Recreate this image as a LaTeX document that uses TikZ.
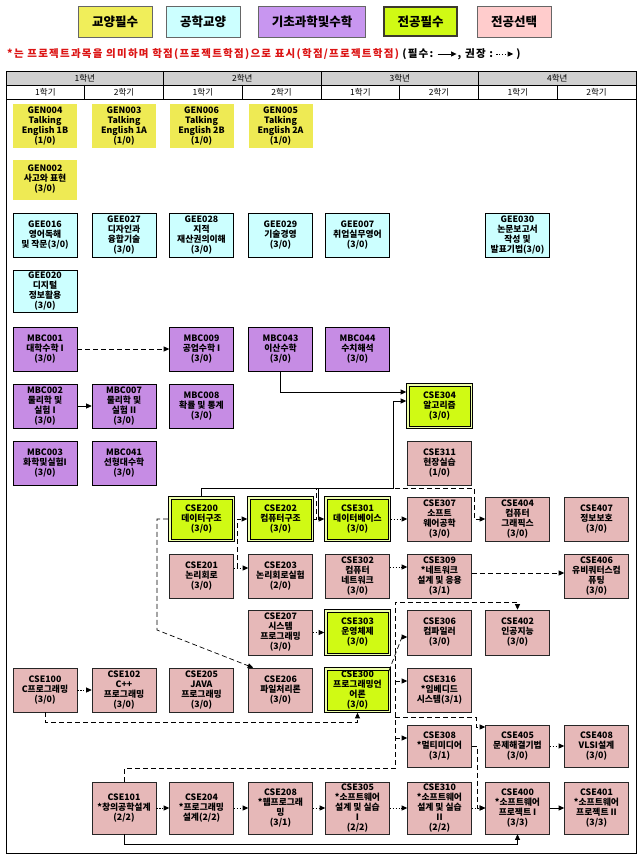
\documentclass[tikz,border=0pt]{standalone}
\usepackage{fontspec}
\setmainfont{Noto Sans CJK KR}
\usetikzlibrary{arrows.meta,calc}
\definecolor{genY}{RGB}{238,234,84}
\definecolor{geeC}{RGB}{204,255,255}
\definecolor{mbcP}{RGB}{198,140,228}
\definecolor{mustG}{RGB}{208,250,20}
\definecolor{mustL}{RGB}{238,255,170}
\definecolor{selP}{RGB}{230,184,184}
\definecolor{legY}{RGB}{240,238,90}
\definecolor{legP}{RGB}{200,150,240}
\definecolor{legS}{RGB}{255,204,204}
\definecolor{hdrG}{RGB}{208,208,208}
\definecolor{noteR}{RGB}{220,20,20}
\newcommand\ndfont{\bfseries\fontsize{8.8}{10}\selectfont}
\newcommand\legfont{\bfseries\fontsize{12.5}{14}\selectfont}
\newcommand\hdfont{\fontsize{8.5}{10}\selectfont}
\newcommand\notefont{\bfseries\fontsize{10.5}{12}\selectfont\addfontfeature{LetterSpace=12}}
\begin{document}
\begin{tikzpicture}[x=1pt,y=-1pt,
  basebox/.style={minimum width=64pt,minimum height=44pt,inner sep=0pt,align=center,font=\ndfont,text=black},
  genbox/.style={basebox,fill=genY},
  geebox/.style={basebox,fill=geeC,draw=black,line width=0.7pt},
  mbcbox/.style={basebox,fill=mbcP,draw=black,line width=0.6pt},
  selbox/.style={basebox,fill=selP,draw=black!85,line width=0.6pt},
  mustbox/.style={basebox,minimum width=66pt,minimum height=45pt,fill=mustL,draw=black,line width=0.6pt,
    path picture={
      \fill[mustG] ($(path picture bounding box.south west)+(2.3,-2.3)$) rectangle ($(path picture bounding box.north east)+(-2.3,2.3)$);
      \draw[black,line width=0.6pt] ($(path picture bounding box.south west)+(2.3,-2.3)$) rectangle ($(path picture bounding box.north east)+(-2.3,2.3)$);
    }},
  legbox/.style={minimum height=31pt,inner sep=0pt,font=\legfont,draw=black!60,line width=0.6pt},
  arMust/.style={-{Triangle[length=5.5pt,width=5pt]},line width=0.7pt,black},
  arDash/.style={-{Triangle[length=5.5pt,width=5pt]},line width=0.7pt,black,dash pattern=on 5pt off 3pt},
  arDot/.style={-{Triangle[length=5.5pt,width=5pt]},line width=0.7pt,black,dash pattern=on 1.3pt off 1.6pt},
  hdr/.style={font=\hdfont,inner sep=0pt}
]
\useasboundingbox (0,0) rectangle (640,856);
\fill[white] (0,0) rectangle (640,856);

% legend
\node[legbox,fill=legY,minimum width=74pt] (L1) at (115,21.5) {교양필수};
\node[legbox,fill=geeC,minimum width=74pt] (L2) at (203,21.5) {공학교양};
\node[legbox,fill=legP,minimum width=107pt] (L3) at (312,21.5) {기초과학및수학};
\node[legbox,fill=mustG,minimum width=73pt,minimum height=29pt,draw=black!75!olive,line width=2.4pt] (L4) at (420.5,21.5) {전공필수};
\node[legbox,fill=legS,minimum width=74pt] (L5) at (514,21.5) {전공선택};

\node[anchor=west,inner sep=0pt,text=noteR,font=\notefont] (note) at (7,54) {*는 프로젝트과목을 의미하며 학점(프로젝트학점)으로 표시(학점/프로젝트학점)};
\node[anchor=west,inner xsep=3pt,inner ysep=0pt,font=\notefont] (n2) at (note.east) {(필수:};
\coordinate (la1) at ($(n2.east)+(1,0)$);
\coordinate (la2) at ($(n2.east)+(20,0)$);
\draw[arMust] (la1) -- (la2);
\node[anchor=west,inner xsep=1pt,inner ysep=0pt,font=\notefont] (n3) at (la2) {, 권장 :};
\coordinate (lb1) at ($(n3.east)+(2,0)$);
\coordinate (lb2) at ($(n3.east)+(19,0)$);
\draw[arDot] (lb1) -- (lb2);
\node[anchor=west,inner xsep=3pt,inner ysep=0pt,font=\notefont] (n4) at (lb2) {)};

% table header
\fill[hdrG] (6,71) rectangle (636,85);
\draw[line width=0.7pt] (6,71) rectangle (636,99);
\draw[line width=0.6pt] (6,85) -- (636,85);
\foreach \x in {163.5,321,478.5} \draw[line width=0.6pt] (\x,71) -- (\x,99);
\foreach \x in {84.75,242.25,399.75,557.25} \draw[line width=0.6pt] (\x,85) -- (\x,99);
\node[hdr] (Y1) at (84.75,78) {1학년};
\node[hdr] (Y2) at (242.25,78) {2학년};
\node[hdr] (Y3) at (399.75,78) {3학년};
\node[hdr] (Y4) at (557.25,78) {4학년};
\foreach \x/\s [count=\i] in {45.4/1,124.1/2,202.9/1,281.6/2,360.4/1,439.1/2,517.9/1,596.6/2}
  \node[hdr] (S\i) at (\x,92) {{\s}학기};
\draw[line width=0.8pt] (6,99) rectangle (636,853);

% GEN
\node[genbox] (GEN004) at (45,126) {GEN004\\Talking\\English 1B\\(1/0)};
\node[genbox] (GEN003) at (124,126) {GEN003\\Talking\\English 1A\\(1/0)};
\node[genbox] (GEN006) at (201.5,126) {GEN006\\Talking\\English 2B\\(1/0)};
\node[genbox] (GEN005) at (280.5,126) {GEN005\\Talking\\English 2A\\(1/0)};
\node[genbox,minimum height=40pt] (GEN002) at (45,179.5) {GEN002\\사고와 표현\\(3/0)};
% GEE
\node[geebox] (GEE016) at (45,235) {GEE016\\영어독해\\및 작문(3/0)};
\node[geebox] (GEE027) at (124,235) {GEE027\\디자인과\\융합기술\\(3/0)};
\node[geebox] (GEE028) at (201.5,235) {GEE028\\지적\\재산권의이해\\(3/0)};
\node[geebox] (GEE029) at (280.5,235) {GEE029\\기술경영\\(3/0)};
\node[geebox] (GEE007) at (357.5,235) {GEE007\\취업실무영어\\(3/0)};
\node[geebox] (GEE030) at (517.5,235) {GEE030\\논문보고서\\작성 및\\발표기법(3/0)};
\node[geebox,minimum height=42pt] (GEE020) at (45,291) {GEE020\\디지털\\정보활용\\(3/0)};
% MBC
\node[mbcbox] (MBC001) at (45,349) {MBC001\\대학수학 I\\(3/0)};
\node[mbcbox] (MBC009) at (201.5,349) {MBC009\\공업수학 I\\(3/0)};
\node[mbcbox] (MBC043) at (280.5,349) {MBC043\\이산수학\\(3/0)};
\node[mbcbox] (MBC044) at (357.5,349) {MBC044\\수치해석\\(3/0)};
\node[mbcbox] (MBC002) at (45,406) {MBC002\\물리학 및\\실험 I\\(3/0)};
\node[mbcbox] (MBC007) at (124,406) {MBC007\\물리학 및\\실험 II\\(3/0)};
\node[mbcbox] (MBC008) at (201.5,406) {MBC008\\확률 및 통계\\(3/0)};
\node[mbcbox] (MBC003) at (45,463) {MBC003\\화학및실험I\\(3/0)};
\node[mbcbox] (MBC041) at (124,463) {MBC041\\선형대수학\\(3/0)};
% CSE
\node[mustbox] (CSE304) at (439.5,406) {CSE304\\알고리즘\\(3/0)};
\node[selbox] (CSE311) at (439.5,463) {CSE311\\현장실습\\(1/0)};

\node[mustbox] (CSE200) at (201.5,519) {CSE200\\데이터구조\\(3/0)};
\node[mustbox] (CSE202) at (280.5,519) {CSE202\\컴퓨터구조\\(3/0)};
\node[mustbox] (CSE301) at (357.5,519) {CSE301\\데이터베이스\\(3/0)};
\node[selbox] (CSE307) at (439.5,519) {CSE307\\소프트\\웨어공학\\(3/0)};
\node[selbox] (CSE404) at (517.5,519) {CSE404\\컴퓨터\\그래픽스\\(3/0)};
\node[selbox] (CSE407) at (596.5,519) {CSE407\\정보보호\\(3/0)};

\node[selbox] (CSE201) at (201.5,576) {CSE201\\논리회로\\(3/0)};
\node[selbox] (CSE203) at (280.5,576) {CSE203\\논리회로실험\\(2/0)};
\node[selbox] (CSE302) at (357.5,576) {CSE302\\컴퓨터\\네트워크\\(3/0)};
\node[selbox] (CSE309) at (439.5,576) {CSE309\\*네트워크\\설계 및 응용\\(3/1)};
\node[selbox] (CSE406) at (596.5,576) {CSE406\\유비쿼터스컴\\퓨팅\\(3/0)};

\node[selbox,minimum height=45pt] (CSE207) at (280.5,632.5) {CSE207\\시스템\\프로그래밍\\(3/0)};
\node[mustbox,minimum height=46pt] (CSE303) at (357.5,632.5) {CSE303\\운영체제\\(3/0)};
\node[selbox,minimum height=45pt] (CSE306) at (439.5,632.5) {CSE306\\컴파일러\\(3/0)};
\node[selbox,minimum height=45pt] (CSE402) at (517.5,632.5) {CSE402\\인공지능\\(3/0)};

\node[selbox] (CSE100) at (45,690) {CSE100\\C프로그래밍\\(3/0)};
\node[selbox] (CSE102) at (124,690) {CSE102\\C++\\프로그래밍\\(3/0)};
\node[selbox] (CSE205) at (201.5,690) {CSE205\\JAVA\\프로그래밍\\(3/0)};
\node[selbox] (CSE206) at (280.5,690) {CSE206\\파일처리론\\(3/0)};
\node[mustbox] (CSE300) at (357.5,690) {CSE300\\프로그래밍언\\어론\\(3/0)};
\node[selbox] (CSE316) at (439.5,690) {CSE316\\*임베디드\\시스템(3/1)};

\node[selbox,minimum height=42pt] (CSE308) at (439.5,746) {CSE308\\*멀티미디어\\(3/1)};
\node[selbox,minimum height=42pt] (CSE405) at (517.5,746) {CSE405\\문제해결기법\\(3/0)};
\node[selbox,minimum height=42pt] (CSE408) at (596.5,746) {CSE408\\VLSI설계\\(3/0)};

\node[selbox,minimum height=52pt] (CSE101) at (124,808) {CSE101\\*창의공학설계\\(2/2)};
\node[selbox,minimum height=52pt] (CSE204) at (201.5,808) {CSE204\\*프로그래밍\\설계(2/2)};
\node[selbox,minimum height=52pt] (CSE208) at (280.5,808) {CSE208\\*웹프로그래\\밍\\(3/1)};
\node[selbox,minimum height=52pt] (CSE305) at (357.5,808) {CSE305\\*소프트웨어\\설계 및 실습\\I\\(2/2)};
\node[selbox,minimum height=52pt] (CSE310) at (439.5,808) {CSE310\\*소프트웨어\\설계 및 실습\\II\\(2/2)};
\node[selbox,minimum height=52pt] (CSE400) at (517.5,808) {CSE400\\*소프트웨어\\프로젝트 I\\(3/3)};
\node[selbox,minimum height=52pt] (CSE401) at (596.5,808) {CSE401\\*소프트웨어\\프로젝트 II\\(3/3)};

% connectors
\draw[arDash] (MBC001) -- (MBC009);
\draw[arMust] (MBC002) -- (MBC007);
\draw[arMust] (MBC043.south) |- (CSE304.west |- 0,392);
\coordinate (jB) at (393,488);
\draw[arMust] (CSE200.north) |- (jB) |- (CSE304.west |- 0,401);
\coordinate (jA) at (318,488);
\draw[arMust] (jA) |- (CSE301.west);
\coordinate (jC) at (474,488);
\draw[arDash] (CSE202.east) -- ++(3,0) |- (jC) |- (CSE404.west);
\coordinate (jD) at (237,568);
\draw[arDot] (CSE201.east |- jD) -- (CSE203.west |- jD);
\draw[arDash] (jD) |- (CSE202.west);
\coordinate (jE) at (157,630);
\draw[arDash] (CSE200.west) -| (jE) -- ($(CSE206.north west)+(5,0)$);
\draw[arDot] (CSE207) -- (CSE303);
\draw[arDot] (CSE301) -- (CSE307);
\draw[arDot] (CSE302.east |- 0,567) -- (CSE309.west |- 0,567);
\draw[arDash] (CSE309.east |- 0,573) -- (CSE406.west |- 0,573);
\draw[arDot] (CSE100) -- (CSE102);
\draw[arDash] (CSE100.south) -- ++(0,10) -| (CSE300.south);
\coordinate (jF) at (402,637);
\draw[arDash] ($(CSE300.north east)+(-2,4)$) -- (jF) -- (CSE306.west |- jF);
\coordinate (jG) at (395,602);
\draw[arDash] (CSE101.north) -- ++(0,-13) -| (jG) -| (CSE402.north);
\coordinate (jH) at (395,681);
\draw[arDash] (jH) -- (CSE316.west |- jH);
\coordinate (jI) at (395,738);
\draw[arDash] (jI) -- (CSE308.west |- jI);
\coordinate (jJ) at (395,717);
\coordinate (jK) at (476,727);
\draw[arDash] (jJ) -| (jK) -- (CSE405.west |- jK);
\draw[arMust] (CSE101.south) -- ++(0,10) -| (CSE400.south);
\draw[arDot] (CSE101) -- (CSE204);
\draw[arDot] (CSE204) -- (CSE208);
\draw[arDot] (CSE208) -- (CSE305);
\draw[arDot] (CSE305) -- (CSE310);
\draw[arDot] (CSE310) -- (CSE400);
\draw[arMust] (CSE400) -- (CSE401);
\coordinate (jL) at (477,808);
\draw[arDash] (CSE308.east) -| (jL) -- (CSE400.west);
\draw[arDot] (CSE405) -- (CSE408);
\end{tikzpicture}
\end{document}
